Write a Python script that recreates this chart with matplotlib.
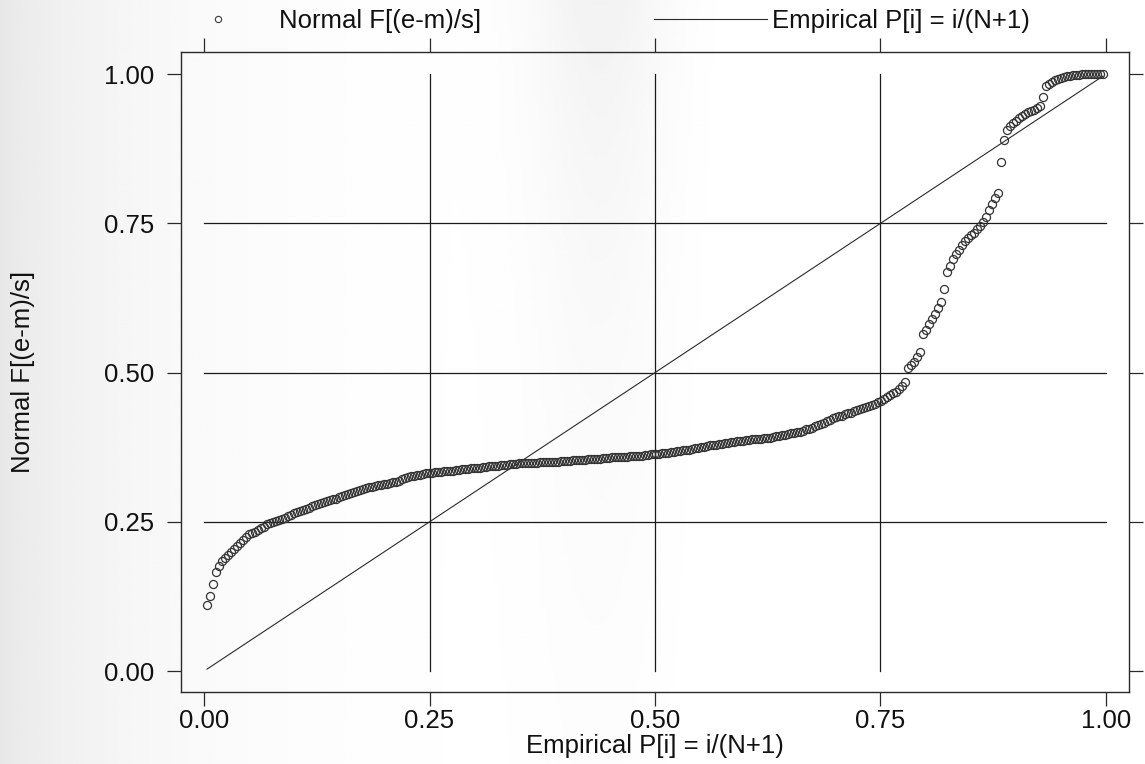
import matplotlib
matplotlib.use("Agg")
import matplotlib.pyplot as plt
from matplotlib.lines import Line2D
import numpy as np

plt.rcParams['font.family'] = ['Liberation Sans', 'DejaVu Sans']

# sorted standardized-normal probabilities of the residuals, one per observation
normal_f = [
    0.110, 0.126, 0.146, 0.166, 0.176, 0.184, 0.190, 0.195, 0.199, 0.205,
    0.209, 0.215, 0.220, 0.225, 0.229, 0.231, 0.233, 0.237, 0.240, 0.242,
    0.246, 0.248, 0.250, 0.252, 0.253, 0.255, 0.257, 0.259, 0.261, 0.264,
    0.266, 0.268, 0.270, 0.272, 0.274, 0.277, 0.279, 0.280, 0.282, 0.283,
    0.285, 0.286, 0.288, 0.289, 0.291, 0.293, 0.295, 0.296, 0.298, 0.300,
    0.302, 0.304, 0.305, 0.306, 0.308, 0.309, 0.310, 0.311, 0.312, 0.313,
    0.314, 0.315, 0.316, 0.317, 0.319, 0.321, 0.323, 0.325, 0.326, 0.327,
    0.328, 0.329, 0.330, 0.331, 0.332, 0.332, 0.333, 0.333, 0.334, 0.335,
    0.335, 0.336, 0.336, 0.337, 0.337, 0.338, 0.339, 0.339, 0.340, 0.340,
    0.341, 0.341, 0.342, 0.342, 0.343, 0.343, 0.344, 0.344, 0.345, 0.346,
    0.346, 0.347, 0.347, 0.347, 0.348, 0.348, 0.348, 0.349, 0.349, 0.349,
    0.349, 0.350, 0.350, 0.350, 0.350, 0.351, 0.351, 0.351, 0.352, 0.352,
    0.352, 0.352, 0.353, 0.353, 0.353, 0.354, 0.354, 0.355, 0.355, 0.355,
    0.356, 0.356, 0.357, 0.357, 0.357, 0.358, 0.358, 0.358, 0.359, 0.359,
    0.359, 0.360, 0.360, 0.361, 0.361, 0.361, 0.362, 0.362, 0.363, 0.363,
    0.364, 0.364, 0.365, 0.365, 0.366, 0.367, 0.367, 0.368, 0.369, 0.370,
    0.371, 0.371, 0.372, 0.373, 0.374, 0.375, 0.376, 0.377, 0.378, 0.379,
    0.379, 0.380, 0.381, 0.382, 0.382, 0.383, 0.384, 0.385, 0.386, 0.386,
    0.387, 0.387, 0.388, 0.388, 0.389, 0.389, 0.390, 0.391, 0.391, 0.392,
    0.393, 0.394, 0.395, 0.396, 0.397, 0.398, 0.399, 0.400, 0.401, 0.403,
    0.405, 0.406, 0.408, 0.410, 0.412, 0.414, 0.416, 0.419, 0.421, 0.424,
    0.425, 0.427, 0.428, 0.430, 0.432, 0.433, 0.435, 0.437, 0.439, 0.441,
    0.442, 0.444, 0.446, 0.448, 0.451, 0.453, 0.456, 0.459, 0.462, 0.466,
    0.468, 0.472, 0.478, 0.484, 0.508, 0.512, 0.518, 0.526, 0.534, 0.564,
    0.572, 0.582, 0.590, 0.598, 0.608, 0.618, 0.640, 0.668, 0.678, 0.690,
    0.698, 0.706, 0.714, 0.721, 0.726, 0.730, 0.734, 0.740, 0.746, 0.752,
    0.760, 0.772, 0.782, 0.792, 0.800, 0.852, 0.890, 0.906, 0.913, 0.918,
    0.922, 0.926, 0.930, 0.933, 0.936, 0.938, 0.940, 0.943, 0.946, 0.962,
    0.980, 0.984, 0.987, 0.990, 0.992, 0.994, 0.995, 0.996, 0.997, 0.998,
    0.999, 0.999, 1.000, 1.000, 1.000, 1.000, 1.000, 1.000, 1.000, 1.000,
]
tick_vals = [0.0, 0.25, 0.5, 0.75, 1.0]
tick_labels = ["0.00", "0.25", "0.50", "0.75", "1.00"]

n = len(normal_f)
p_emp = np.arange(1, n + 1) / (n + 1)   # P[i] = i/(N+1)

fig = plt.figure(figsize=(11.45, 7.64), dpi=100)
fig.patch.set_facecolor("white")

# light scanner shading behind the plot
bg = fig.add_axes([0, 0, 1, 1], zorder=-5)
gx = np.linspace(0, 1145, 400)
gy = np.linspace(0, 764, 200)
GX, GY = np.meshgrid(gx, gy)
shade = 1 - 0.09 * np.exp(-GX / 140) - 0.05 * np.exp(-((GX - 600) / 70) ** 2) * np.exp(-GY / 400)
bg.imshow(shade, cmap="gray", vmin=0, vmax=1, aspect="auto", extent=[0, 1, 0, 1])
bg.axis("off")

ax = fig.add_axes([181 / 1145, 72 / 764, 948 / 1145, 640 / 764])
ax.set_facecolor("none")
ax.set_xlim(-0.0255, 1.0255)
ax.set_ylim(-0.035, 1.037)

ink = "#2a2a2a"
for v in tick_vals[1:-1]:
    ax.plot([v, v], [0, 1], color="#1a1a1a", lw=0.9, zorder=1)
    ax.plot([0, 1], [v, v], color="#1a1a1a", lw=0.9, zorder=1)

ax.plot(p_emp, p_emp, color=ink, lw=0.8, zorder=2)
ax.plot(p_emp, normal_f, linestyle="none", marker="o", ms=5.8,
        mfc="none", mec="#333333", mew=0.9, zorder=3)

for s in ax.spines.values():
    s.set_color(ink)
    s.set_linewidth(1.0)

ax.set_xticks(tick_vals)
ax.set_xticklabels(tick_labels)
ax.set_yticks(tick_vals)
ax.set_yticklabels(tick_labels)
ax.tick_params(axis="both", direction="out", length=10, width=0.9, color=ink,
               labelsize=18.5, labelcolor="#111111",
               top=True, right=True, labeltop=False, labelright=False)
ax.tick_params(axis="x", pad=2)
ax.tick_params(axis="y", pad=9)

ax.set_xlabel("Empirical P[i] = i/(N+1)", fontsize=18.5, color="#111111", labelpad=1)
ax.set_ylabel("Normal F[(e-m)/s]", fontsize=18.5, color="#111111", labelpad=50)

handles = [
    Line2D([], [], linestyle="none", marker="o", ms=4.5, mfc="none", mec="#3a3a3a", mew=0.8),
    Line2D([], [], color=ink, lw=0.8),
]
fig.legend(handles, ["Normal F[(e-m)/s]", "Empirical P[i] = i/(N+1)"],
           loc="center", bbox_to_anchor=(0.52, 0.972), ncol=2, frameon=False,
           fontsize=18.5, handlelength=4.4, handletextpad=0.2, columnspacing=6.7,
           labelcolor="#111111")

fig.savefig("out.png", dpi=100)
